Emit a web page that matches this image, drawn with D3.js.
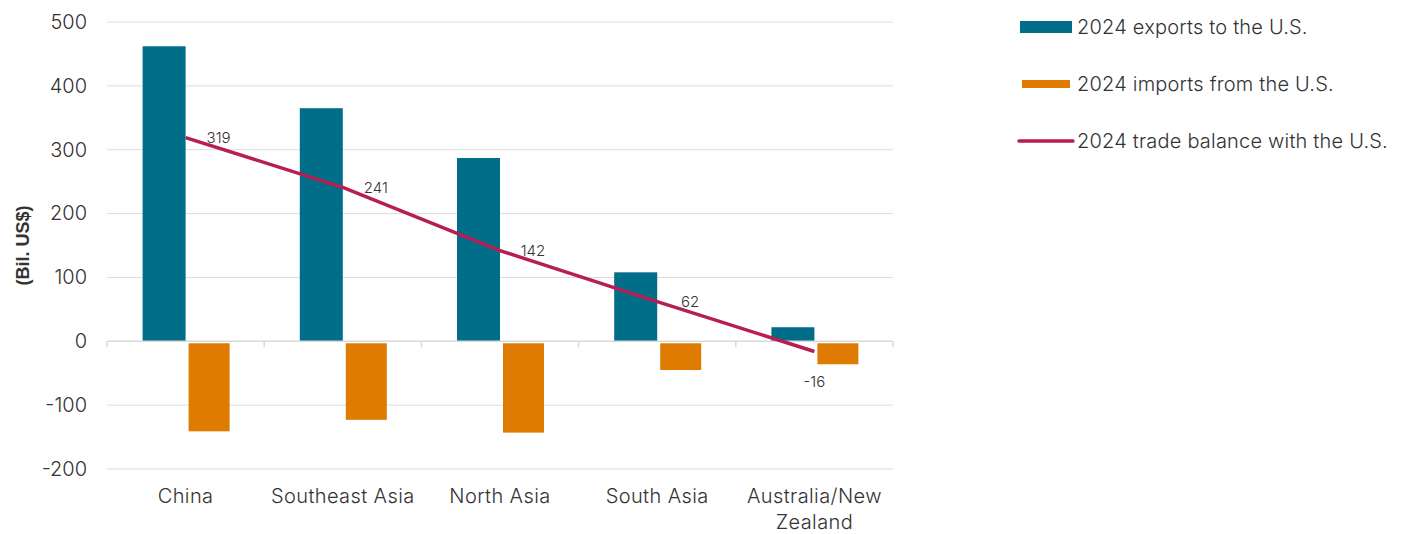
<!DOCTYPE html>
<html>
<head>
<meta charset="utf-8">
<script src="https://cdn.jsdelivr.net/npm/d3@7/dist/d3.min.js"></script>
<style>
  html, body { margin: 0; padding: 0; background: #fff; }
  svg { display: block; }
  text { font-family: Inter, "Noto Sans", sans-serif; fill: #333; font-weight: 300; }
</style>
</head>
<body>
<svg id="chart" width="1408" height="534"></svg>
<script>
// Trade with the U.S., 2024 (billions of US$)
const categories = ["China", "Southeast Asia", "North Asia", "South Asia", "Australia/New Zealand"];
const exportsToUS = [462, 365, 287, 108, 22];
const importsFromUS = [-141, -123, -143, -45, -36];
const tradeBalance = [319, 241, 142, 62, -16];
const yTicks = [500, 400, 300, 200, 100, 0, -100, -200];
const seriesNames = ["2024 exports to the U.S.", "2024 imports from the U.S.", "2024 trade balance with the U.S."];

const colors = { exports: "#006E89", imports: "#DE7B00", balance: "#B71F52" };

const svg = d3.select("#chart");
const plot = { left: 107, right: 893, top: 22, bottom: 469 };

const x = d3.scaleBand().domain(categories).range([plot.left, plot.right]).padding(0);
const y = d3.scaleLinear().domain([-200, 500]).range([plot.bottom, plot.top]);

const barW = 43, gap = 2;
const fmt = d => String(d); // plain hyphen for negatives

// gridlines
svg.append("g").selectAll("line")
  .data(yTicks.filter(d => d !== 0))
  .join("line")
  .attr("x1", plot.left).attr("x2", plot.right)
  .attr("y1", d => y(d)).attr("y2", d => y(d))
  .attr("stroke", "#dcdcdc").attr("stroke-width", 1);

// y-axis labels
const yAxis = svg.append("g").attr("transform", `translate(${plot.left},0)`)
  .call(d3.axisLeft(y).tickValues(yTicks).tickSize(0).tickPadding(20).tickFormat(fmt));
yAxis.select(".domain").remove();
yAxis.selectAll("text")
  .style("font-family", "Inter, sans-serif").style("font-size", "20px")
  .style("font-weight", "300").attr("fill", "#333");

// y-axis title
svg.append("text")
  .attr("transform", `translate(29,${(plot.top + plot.bottom) / 2}) rotate(-90)`)
  .attr("text-anchor", "middle")
  .style("font-family", "'Liberation Sans', Arial, sans-serif")
  .style("font-weight", "bold").style("font-size", "18px").attr("fill", "#222")
  .text("(Bil. US$)");

// export bars
svg.append("g").selectAll("rect")
  .data(categories.map((c, i) => ({ c, v: exportsToUS[i] })))
  .join("rect")
  .attr("x", d => x(d.c) + x.bandwidth() / 2 - barW - gap / 2 + 1)
  .attr("width", barW)
  .attr("y", d => y(d.v))
  .attr("height", d => y(0) - y(d.v))
  .attr("fill", colors.exports);

// import bars
svg.append("g").selectAll("rect")
  .data(categories.map((c, i) => ({ c, v: importsFromUS[i] })))
  .join("rect")
  .attr("x", d => x(d.c) + x.bandwidth() / 2 + gap / 2 + 2)
  .attr("width", barW - 2)
  .attr("y", y(0) + 2)
  .attr("height", d => y(d.v) - y(0) - 2)
  .attr("fill", colors.imports);

// x-axis at zero
const xAxis = svg.append("g").attr("transform", `translate(0,${y(0)})`);
xAxis.append("line")
  .attr("x1", plot.left).attr("x2", plot.right)
  .attr("stroke", "#d9d9d9").attr("stroke-width", 1.5);
const bounds = categories.map(c => x(c)).concat([plot.right]);
xAxis.selectAll("line.tick").data(bounds).join("line")
  .attr("class", "tick")
  .attr("x1", d => d).attr("x2", d => d)
  .attr("y1", 0).attr("y2", 6)
  .attr("stroke", "#d9d9d9").attr("stroke-width", 1.5);

// category labels (wrap the long one)
const catLines = { "Australia/New Zealand": ["Australia/New", "Zealand"] };
const catG = svg.append("g");
categories.forEach(c => {
  const lines = catLines[c] || [c];
  const t = catG.append("text")
    .attr("x", x(c) + x.bandwidth() / 2)
    .attr("y", 503)
    .attr("text-anchor", "middle")
    .style("font-size", "20px").style("letter-spacing", "0.4px").attr("fill", "#333");
  lines.forEach((l, k) => {
    t.append("tspan").attr("x", x(c) + x.bandwidth() / 2).attr("dy", k === 0 ? 0 : 26).text(l);
  });
});

// trade balance line
const line = d3.line()
  .x((d, i) => x(categories[i]) + x.bandwidth() / 2)
  .y(d => y(d));
svg.append("path")
  .datum(tradeBalance)
  .attr("d", line)
  .attr("fill", "none")
  .attr("stroke", colors.balance)
  .attr("stroke-width", 3.5);

// balance data labels
svg.append("g").selectAll("text")
  .data(tradeBalance)
  .join("text")
  .attr("x", (d, i) => x(categories[i]) + x.bandwidth() / 2 + (d >= 0 ? 33 : 0))
  .attr("y", d => d >= 0 ? y(d) : y(d) + 30)
  .attr("dy", "0.35em")
  .attr("text-anchor", "middle")
  .style("font-size", "15px").attr("fill", "#333")
  .text(fmt);

// legend
const legend = svg.append("g");
const legendRows = [
  { name: seriesNames[0], type: "bar", color: colors.exports, y: 27, h: 12, x0: 1020, w: 52 },
  { name: seriesNames[1], type: "bar", color: colors.imports, y: 84, h: 8, x0: 1022, w: 48 },
  { name: seriesNames[2], type: "line", color: colors.balance, y: 141, h: 3.5, x0: 1019, w: 54 }
];
legendRows.forEach(r => {
  if (r.type === "bar") {
    legend.append("rect").attr("x", r.x0).attr("y", r.y - r.h / 2).attr("width", r.w).attr("height", r.h).attr("fill", r.color);
  } else {
    legend.append("line").attr("x1", r.x0).attr("x2", r.x0 + r.w).attr("y1", r.y).attr("y2", r.y)
      .attr("stroke", r.color).attr("stroke-width", r.h).attr("stroke-linecap", "round");
  }
  legend.append("text").attr("x", 1077).attr("y", r.y).attr("dy", "0.35em")
    .style("font-size", "20px").style("letter-spacing", "0.2px").attr("fill", "#333").text(r.name);
});
</script>
</body>
</html>
